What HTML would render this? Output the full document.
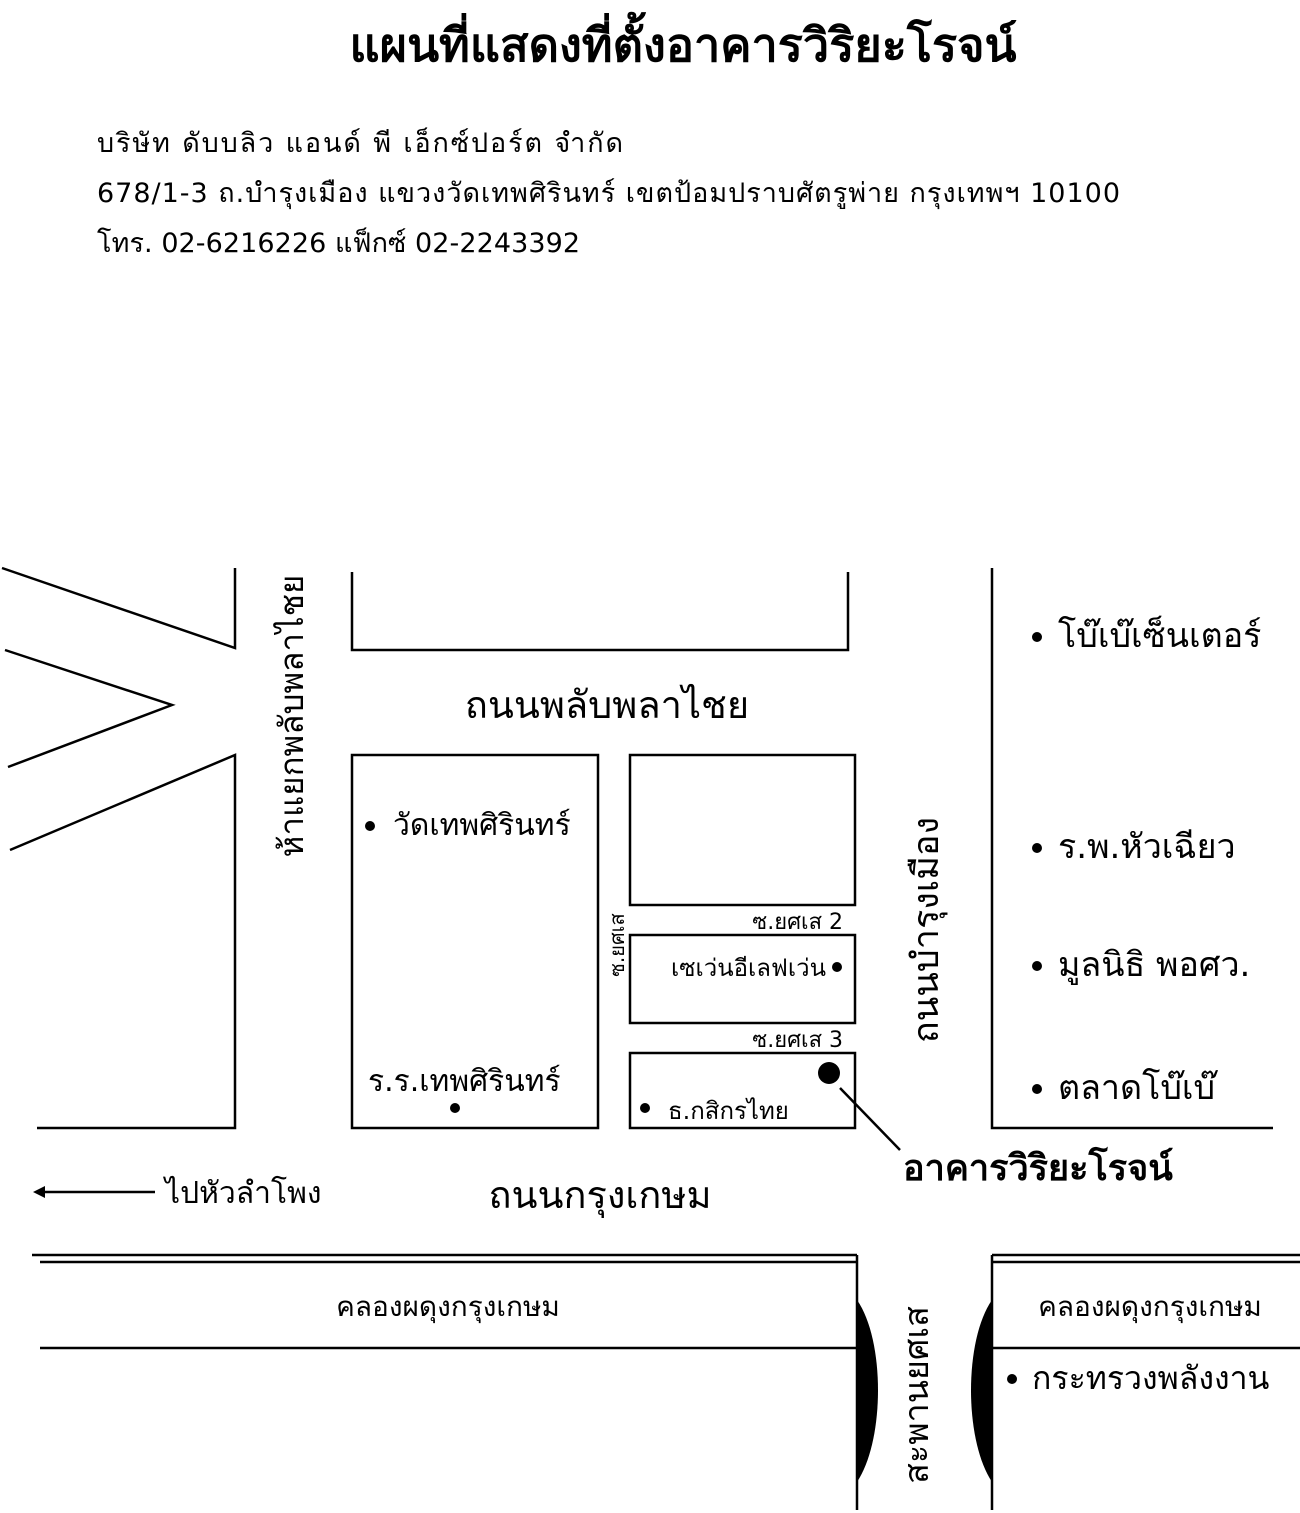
<!DOCTYPE html>
<html><head><meta charset="utf-8"><style>
body{margin:0;background:#fff}
svg{display:block}
text{font-family:"DejaVu Sans","Liberation Sans",sans-serif;fill:#000}
</style></head><body>
<svg width="1300" height="1513" viewBox="0 0 1300 1513" xmlns="http://www.w3.org/2000/svg">
<text x="683" y="61" font-size="46" font-weight="bold" text-anchor="middle" textLength="667" lengthAdjust="spacingAndGlyphs">แผนที่แสดงที่ตั้งอาคารวิริยะโรจน์</text>
<text x="97" y="152" font-size="27" textLength="526" lengthAdjust="spacing">บริษัท ดับบลิว แอนด์ พี เอ็กซ์ปอร์ต จำกัด</text>
<text x="97" y="202" font-size="27" textLength="1023" lengthAdjust="spacing">678/1-3 ถ.บำรุงเมือง แขวงวัดเทพศิรินทร์ เขตป้อมปราบศัตรูพ่าย กรุงเทพฯ 10100</text>
<text x="97" y="252" font-size="27" textLength="483" lengthAdjust="spacing">โทร. 02-6216226 แฟ็กซ์ 02-2243392</text>
<g stroke="#000" stroke-width="2.5" fill="none">
<polyline points="2,568 235,648 235,568"/>
<polyline points="5,650 172,705 8,767"/>
<polyline points="10,850 235,755 235,1128 37,1128"/>
<polyline points="352,572 352,650 848,650 848,572"/>
<rect x="352" y="755" width="246" height="373"/>
<rect x="630" y="755" width="225" height="150"/>
<rect x="630" y="935" width="225" height="88"/>
<rect x="630" y="1053" width="225" height="75"/>
<polyline points="992,568 992,1128 1273,1128"/>
<line x1="840" y1="1088" x2="900" y2="1150"/>
<line x1="40" y1="1192" x2="155" y2="1192"/>
<line x1="32" y1="1255" x2="857" y2="1255"/>
<line x1="40" y1="1262" x2="857" y2="1262"/>
<line x1="40" y1="1348" x2="857" y2="1348"/>
<line x1="857" y1="1255" x2="857" y2="1510"/>
<line x1="992" y1="1255" x2="1300" y2="1255"/>
<line x1="992" y1="1262" x2="1300" y2="1262"/>
<line x1="992" y1="1348" x2="1300" y2="1348"/>
<line x1="992" y1="1255" x2="992" y2="1510"/>
</g>
<path d="M33,1192 L45,1186 L45,1198 Z" fill="#000"/>
<path d="M857,1300 C885,1340 885,1440 857,1482 Z" fill="#000"/>
<path d="M992,1300 C964,1340 964,1440 992,1482 Z" fill="#000"/>
<g fill="#000">
<circle cx="1037" cy="637" r="5"/><circle cx="1037" cy="848" r="5"/><circle cx="1037" cy="966" r="5"/><circle cx="1037" cy="1089" r="5"/>
<circle cx="370" cy="826" r="5"/><circle cx="455" cy="1108" r="5"/><circle cx="645" cy="1108" r="5"/><circle cx="837" cy="967" r="5"/>
<circle cx="829" cy="1073" r="11"/><circle cx="1012" cy="1379" r="5"/>
</g>
<text x="607" y="718" font-size="38" text-anchor="middle">ถนนพลับพลาไชย</text>
<text x="600" y="1208" font-size="38" text-anchor="middle">ถนนกรุงเกษม</text>
<text x="165" y="1203" font-size="30">ไปหัวลำโพง</text>
<text x="1058" y="647" font-size="34">โบ๊เบ๊เซ็นเตอร์</text>
<text x="1058" y="858" font-size="34">ร.พ.หัวเฉียว</text>
<text x="1058" y="976" font-size="34">มูลนิธิ พอศว.</text>
<text x="1058" y="1099" font-size="34">ตลาดโบ๊เบ๊</text>
<text x="393" y="835" font-size="30">วัดเทพศิรินทร์</text>
<text x="368" y="1091" font-size="30">ร.ร.เทพศิรินทร์</text>
<text x="668" y="1119" font-size="24">ธ.กสิกรไทย</text>
<text x="826" y="976" font-size="24" text-anchor="end">เซเว่นอีเลฟเว่น</text>
<text x="843" y="929" font-size="22" text-anchor="end">ซ.ยศเส 2</text>
<text x="843" y="1047" font-size="22" text-anchor="end">ซ.ยศเส 3</text>
<text x="903" y="1180" font-size="36" font-weight="bold">อาคารวิริยะโรจน์</text>
<text x="448" y="1316" font-size="28" text-anchor="middle">คลองผดุงกรุงเกษม</text>
<text x="1150" y="1316" font-size="28" text-anchor="middle">คลองผดุงกรุงเกษม</text>
<text x="1032" y="1389" font-size="32">กระทรวงพลังงาน</text>
<text transform="translate(303,716) rotate(-90)" font-size="33" text-anchor="middle">ห้าแยกพลับพลาไชย</text>
<text transform="translate(938,930) rotate(-90)" font-size="36" text-anchor="middle">ถนนบำรุงเมือง</text>
<text transform="translate(624,945) rotate(-90)" font-size="20" text-anchor="middle">ซ.ยศเส</text>
<text transform="translate(928,1395) rotate(-90)" font-size="34" text-anchor="middle">สะพานยศเส</text>
</svg>
</body></html>
